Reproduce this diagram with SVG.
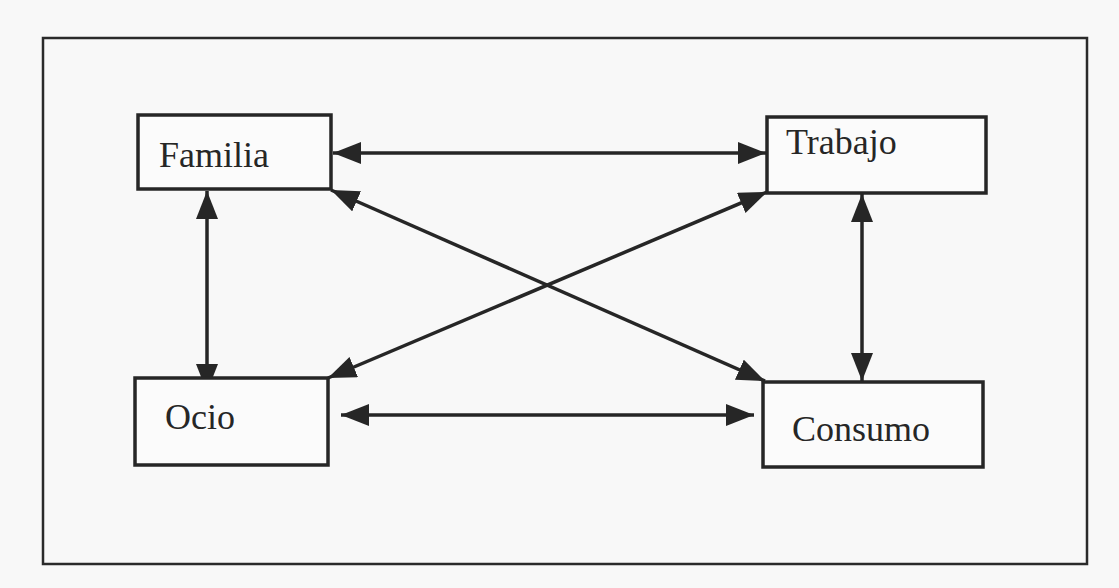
<svg xmlns="http://www.w3.org/2000/svg" width="1119" height="588" viewBox="0 0 1119 588">
  <style>
    .frame { fill: none; stroke: #2a2a2a; stroke-width: 2.5; }
    .box { fill: #fbfbfb; stroke: #262626; stroke-width: 3.5; }
    .label { font-family: "Liberation Serif", "Times New Roman", serif; font-size: 36px; fill: #262626; }
    .conn { stroke: #262626; stroke-width: 3.5; fill: none; marker-start: url(#ah); marker-end: url(#ah); }
  </style>
  <defs>
    <marker id="ah" markerUnits="userSpaceOnUse" markerWidth="30" markerHeight="24" refX="28" refY="11" orient="auto-start-reverse">
      <path d="M0,0 L28,11 L0,22 z" fill="#262626"/>
    </marker>
  </defs>
  <rect width="1119" height="588" fill="#f8f8f8"/>
  <rect class="frame" x="43" y="38" width="1044" height="526"/>

  <g id="connectors">
    <line class="conn" x1="333" y1="153" x2="766" y2="153"/>
    <line class="conn" x1="207" y1="191" x2="207" y2="392"/>
    <line class="conn" x1="862" y1="194" x2="862" y2="381"/>
    <line class="conn" x1="341" y1="415" x2="754" y2="415"/>
    <line class="conn" x1="331" y1="190" x2="765" y2="381"/>
    <line class="conn" x1="767" y1="192" x2="328" y2="378"/>
  </g>

  <g id="familia">
    <rect class="box" x="138" y="115" width="193" height="74"/>
    <text class="label" x="159" y="167">Familia</text>
  </g>
  <g id="trabajo">
    <rect class="box" x="767" y="117" width="219" height="76"/>
    <text class="label" x="786" y="154">Trabajo</text>
  </g>
  <g id="ocio">
    <rect class="box" x="135" y="378" width="193" height="87"/>
    <text class="label" x="165" y="429">Ocio</text>
  </g>
  <g id="consumo">
    <rect class="box" x="763" y="382" width="220" height="85"/>
    <text class="label" x="792" y="441">Consumo</text>
  </g>
</svg>
